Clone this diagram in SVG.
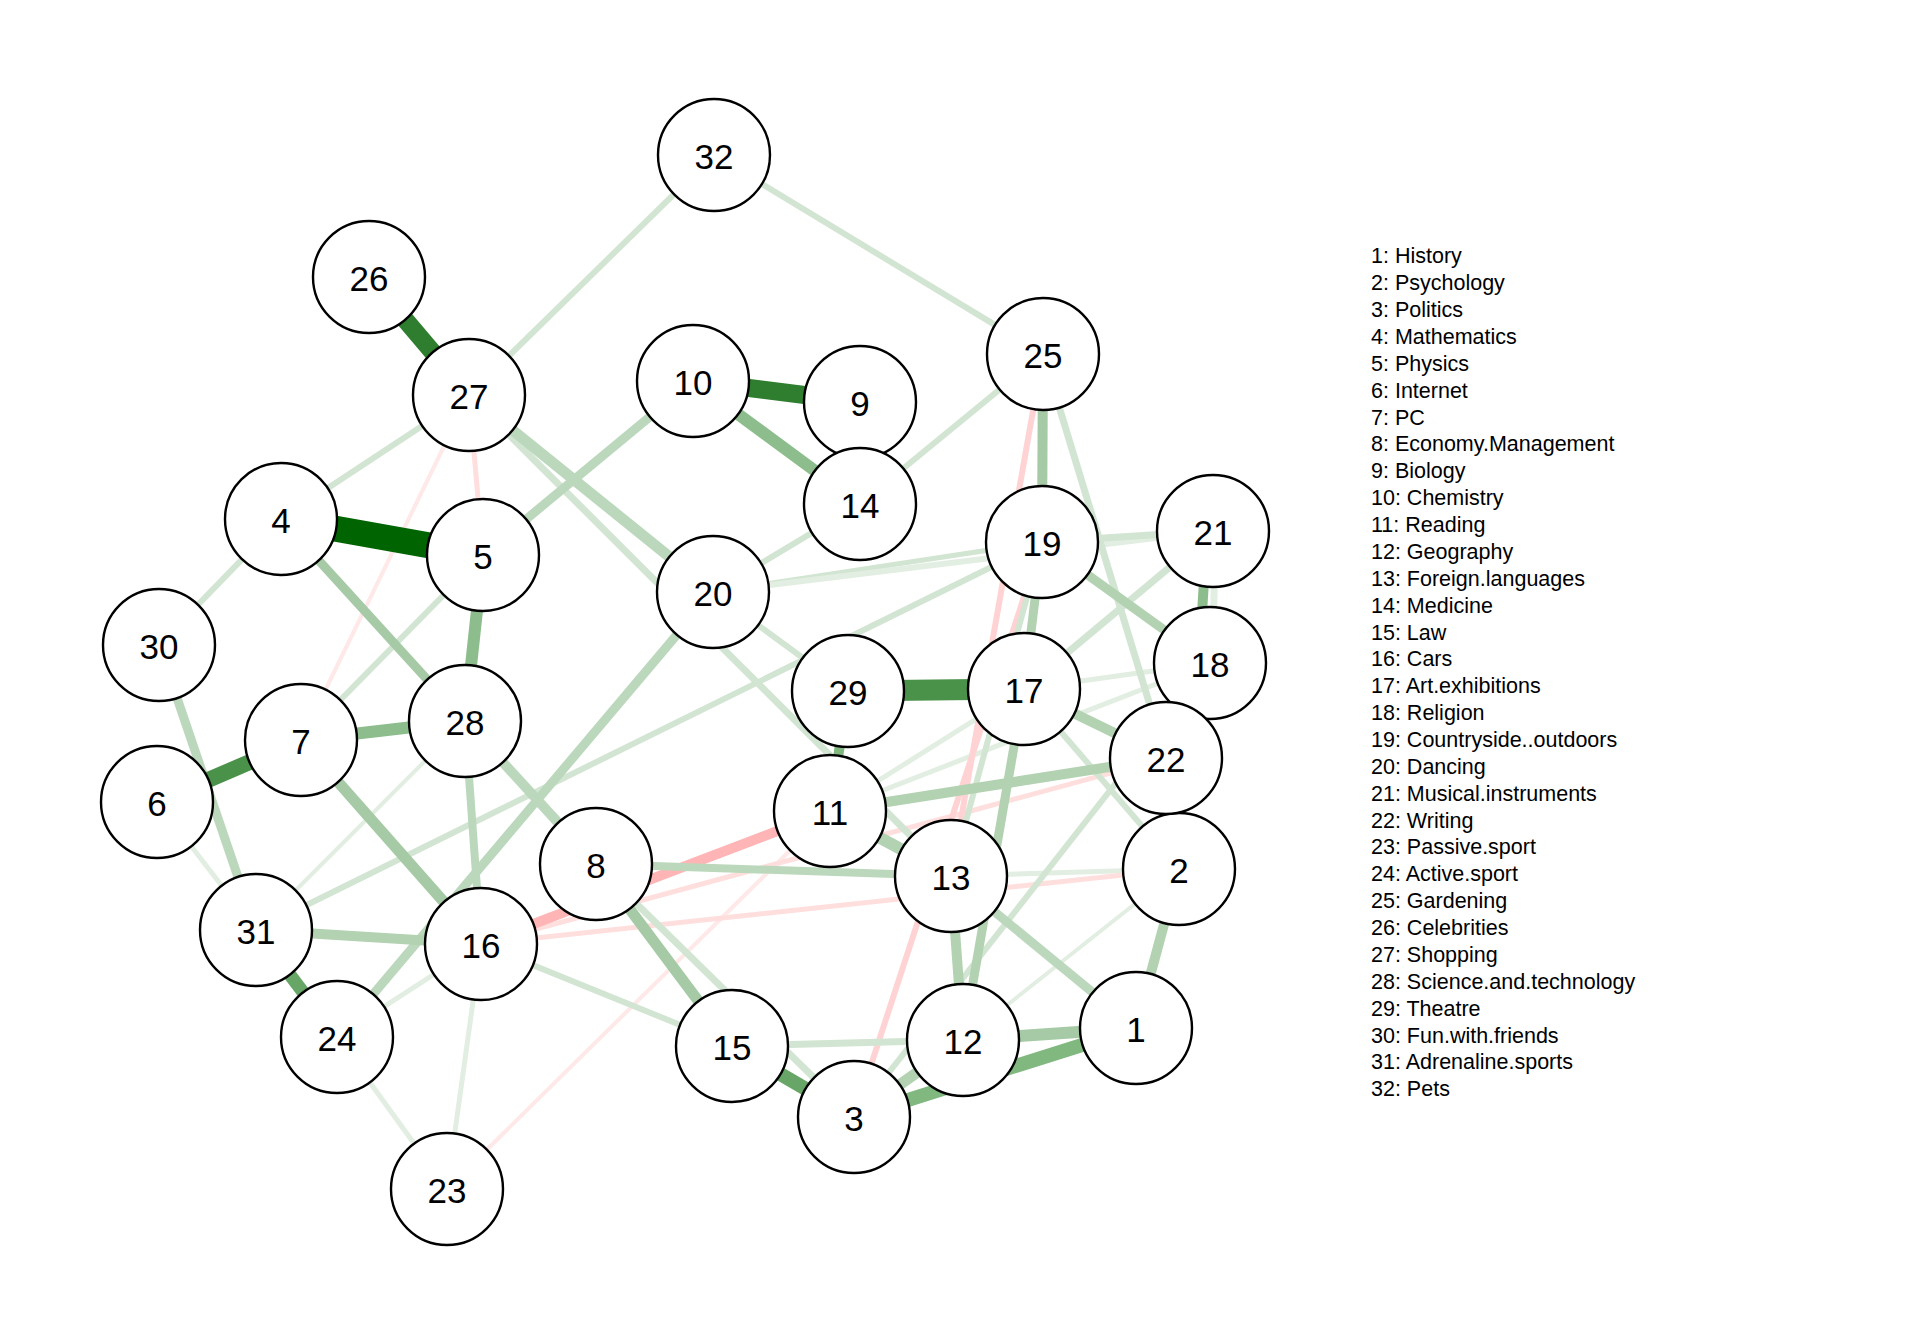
<svg xmlns="http://www.w3.org/2000/svg" width="1920" height="1344" viewBox="0 0 1920 1344">
<style>
.e{fill:none;stroke-linecap:butt}
.n circle{fill:#ffffff;stroke:#000000;stroke-width:2.4}
.n text{font-family:"Liberation Sans",Arial,sans-serif;font-size:35px;text-anchor:middle;fill:#000000}
.lg{font-family:"Liberation Sans",Arial,sans-serif;font-size:21.5px;fill:#000000}
.g0{stroke:#006400}
.g1{stroke:#2f7d2f}
.g2{stroke:#4a914a}
.g3{stroke:#67a667}
.g4{stroke:#80b880}
.g5{stroke:#8dbd8d}
.g6{stroke:#a5caa5}
.g7{stroke:#b2d2b2}
.g8{stroke:#bcd8bc}
.g9{stroke:#d2e5d2}
.g10{stroke:#e2eee2}
.r1{stroke:#ffb5b5}
.r2{stroke:#ffd3d3}
.r3{stroke:#ffdede}
.r4{stroke:#ffe8e8}
</style>
<rect width="1920" height="1344" fill="#ffffff"/>
<g id="connectors">
<line class="e g10" stroke-width="5" x1="830" y1="811" x2="1024" y2="689"/>
<line class="e g10" stroke-width="5" x1="830" y1="811" x2="1210" y2="663"/>
<line class="e g10" stroke-width="5" x1="1024" y1="689" x2="1210" y2="663"/>
<line class="e g10" stroke-width="5" x1="951" y1="876" x2="1179" y2="869"/>
<line class="e g10" stroke-width="4" x1="1179" y1="869" x2="963" y2="1040"/>
<line class="e g10" stroke-width="5" x1="157" y1="802" x2="256" y2="930"/>
<line class="e g10" stroke-width="4" x1="465" y1="721" x2="256" y2="930"/>
<line class="e g10" stroke-width="5" x1="337" y1="1037" x2="447" y2="1189"/>
<line class="e g10" stroke-width="5" x1="481" y1="944" x2="447" y2="1189"/>
<line class="e g10" stroke-width="5" x1="337" y1="1037" x2="481" y2="944"/>
<line class="e g10" stroke-width="7" x1="1215" y1="531" x2="1213" y2="663"/>
<line class="e r4" stroke-width="4" x1="469" y1="395" x2="301" y2="740"/>
<line class="e r4" stroke-width="4" x1="447" y1="1189" x2="830" y2="811"/>
<line class="e r3" stroke-width="5" x1="469" y1="395" x2="483" y2="555"/>
<line class="e r3" stroke-width="5" x1="481" y1="944" x2="1166" y2="758"/>
<line class="e r3" stroke-width="5" x1="481" y1="944" x2="1179" y2="869"/>
<line class="e r2" stroke-width="6" x1="1043" y1="354" x2="951" y2="876"/>
<line class="e r2" stroke-width="6" x1="1042" y1="542" x2="854" y2="1117"/>
<line class="e r1" stroke-width="10" x1="481" y1="944" x2="830" y2="811"/>
<line class="e g9" stroke-width="6" x1="469" y1="395" x2="714" y2="155"/>
<line class="e g9" stroke-width="6" x1="714" y1="155" x2="1043" y2="354"/>
<line class="e g9" stroke-width="6" x1="469" y1="395" x2="281" y2="519"/>
<line class="e g9" stroke-width="7" x1="469" y1="395" x2="951" y2="876"/>
<line class="e g9" stroke-width="6" x1="281" y1="519" x2="159" y2="645"/>
<line class="e g9" stroke-width="6" x1="483" y1="555" x2="301" y2="740"/>
<line class="e g9" stroke-width="6" x1="860" y1="504" x2="1043" y2="354"/>
<line class="e g9" stroke-width="6" x1="860" y1="504" x2="713" y2="592"/>
<line class="e g9" stroke-width="6" x1="713" y1="592" x2="848" y2="691"/>
<line class="e g9" stroke-width="5" x1="713" y1="592" x2="1042" y2="542"/>
<line class="e g10" stroke-width="6" x1="713" y1="592" x2="1213" y2="531"/>
<line class="e g9" stroke-width="7" x1="1042" y1="542" x2="1213" y2="531"/>
<line class="e g9" stroke-width="6" x1="256" y1="930" x2="1042" y2="542"/>
<line class="e g9" stroke-width="7" x1="1043" y1="354" x2="1166" y2="758"/>
<line class="e g9" stroke-width="7" x1="1213" y1="531" x2="1024" y2="689"/>
<line class="e g9" stroke-width="6" x1="1024" y1="689" x2="1179" y2="869"/>
<line class="e g9" stroke-width="6" x1="951" y1="876" x2="1042" y2="542"/>
<line class="e g9" stroke-width="6" x1="1210" y1="663" x2="854" y2="1117"/>
<line class="e g9" stroke-width="6" x1="481" y1="944" x2="732" y2="1046"/>
<line class="e g9" stroke-width="7" x1="732" y1="1046" x2="963" y2="1040"/>
<line class="e g9" stroke-width="7" x1="596" y1="864" x2="854" y2="1117"/>
<line class="e g8" stroke-width="11" x1="469" y1="395" x2="713" y2="592"/>
<line class="e g8" stroke-width="9" x1="693" y1="381" x2="483" y2="555"/>
<line class="e g8" stroke-width="9" x1="337" y1="1037" x2="713" y2="592"/>
<line class="e g8" stroke-width="10" x1="465" y1="721" x2="596" y2="864"/>
<line class="e g8" stroke-width="8" x1="465" y1="721" x2="481" y2="944"/>
<line class="e g8" stroke-width="9" x1="159" y1="645" x2="256" y2="930"/>
<line class="e g8" stroke-width="9" x1="951" y1="876" x2="1136" y2="1028"/>
<line class="e g8" stroke-width="8" x1="596" y1="864" x2="951" y2="876"/>
<line class="e g7" stroke-width="10" x1="256" y1="930" x2="481" y2="944"/>
<line class="e g7" stroke-width="10" x1="830" y1="811" x2="1166" y2="758"/>
<line class="e g7" stroke-width="10" x1="1024" y1="689" x2="1166" y2="758"/>
<line class="e g7" stroke-width="9" x1="1042" y1="542" x2="1024" y2="689"/>
<line class="e g7" stroke-width="9" x1="1042" y1="542" x2="1210" y2="663"/>
<line class="e g7" stroke-width="9" x1="1024" y1="689" x2="963" y2="1040"/>
<line class="e g7" stroke-width="10" x1="951" y1="876" x2="963" y2="1040"/>
<line class="e g7" stroke-width="10" x1="1179" y1="869" x2="1136" y2="1028"/>
<line class="e g7" stroke-width="11" x1="854" y1="1117" x2="963" y2="1040"/>
<line class="e g7" stroke-width="12" x1="830" y1="811" x2="951" y2="876"/>
<line class="e g6" stroke-width="9" x1="281" y1="519" x2="465" y2="721"/>
<line class="e g6" stroke-width="11" x1="301" y1="740" x2="481" y2="944"/>
<line class="e g6" stroke-width="10" x1="1043" y1="354" x2="1042" y2="542"/>
<line class="e g6" stroke-width="11" x1="596" y1="864" x2="732" y2="1046"/>
<line class="e g6" stroke-width="12" x1="963" y1="1040" x2="1136" y2="1028"/>
<line class="e g5" stroke-width="10" x1="1207" y1="531" x2="1199" y2="663"/>
<line class="e g4" stroke-width="10" x1="848" y1="691" x2="830" y2="811"/>
<line class="e g5" stroke-width="12" x1="693" y1="381" x2="860" y2="504"/>
<line class="e g5" stroke-width="12" x1="483" y1="555" x2="465" y2="721"/>
<line class="e g5" stroke-width="12" x1="301" y1="740" x2="465" y2="721"/>
<line class="e g4" stroke-width="14" x1="854" y1="1117" x2="1136" y2="1028"/>
<line class="e g3" stroke-width="13" x1="256" y1="930" x2="337" y2="1037"/>
<line class="e g3" stroke-width="14" x1="732" y1="1046" x2="854" y2="1117"/>
<line class="e g2" stroke-width="16" x1="157" y1="802" x2="301" y2="740"/>
<line class="e g2" stroke-width="21" x1="848" y1="691" x2="1024" y2="689"/>
<line class="e g1" stroke-width="18" x1="369" y1="277" x2="469" y2="395"/>
<line class="e g1" stroke-width="18" x1="693" y1="381" x2="860" y2="402"/>
<line class="e g0" stroke-width="26" x1="281" y1="519" x2="483" y2="555"/>
</g>
<g id="node-1" class="n"><circle cx="1136" cy="1028" r="56"/><text x="1136" y="1041.5">1</text></g>
<g id="node-2" class="n"><circle cx="1179" cy="869" r="56"/><text x="1179" y="882.5">2</text></g>
<g id="node-3" class="n"><circle cx="854" cy="1117" r="56"/><text x="854" y="1130.5">3</text></g>
<g id="node-4" class="n"><circle cx="281" cy="519" r="56"/><text x="281" y="532.5">4</text></g>
<g id="node-5" class="n"><circle cx="483" cy="555" r="56"/><text x="483" y="568.5">5</text></g>
<g id="node-6" class="n"><circle cx="157" cy="802" r="56"/><text x="157" y="815.5">6</text></g>
<g id="node-7" class="n"><circle cx="301" cy="740" r="56"/><text x="301" y="753.5">7</text></g>
<g id="node-8" class="n"><circle cx="596" cy="864" r="56"/><text x="596" y="877.5">8</text></g>
<g id="node-9" class="n"><circle cx="860" cy="402" r="56"/><text x="860" y="415.5">9</text></g>
<g id="node-10" class="n"><circle cx="693" cy="381" r="56"/><text x="693" y="394.5">10</text></g>
<g id="node-11" class="n"><circle cx="830" cy="811" r="56"/><text x="830" y="824.5">11</text></g>
<g id="node-12" class="n"><circle cx="963" cy="1040" r="56"/><text x="963" y="1053.5">12</text></g>
<g id="node-13" class="n"><circle cx="951" cy="876" r="56"/><text x="951" y="889.5">13</text></g>
<g id="node-14" class="n"><circle cx="860" cy="504" r="56"/><text x="860" y="517.5">14</text></g>
<g id="node-15" class="n"><circle cx="732" cy="1046" r="56"/><text x="732" y="1059.5">15</text></g>
<g id="node-16" class="n"><circle cx="481" cy="944" r="56"/><text x="481" y="957.5">16</text></g>
<g id="node-17" class="n"><circle cx="1024" cy="689" r="56"/><text x="1024" y="702.5">17</text></g>
<g id="node-18" class="n"><circle cx="1210" cy="663" r="56"/><text x="1210" y="676.5">18</text></g>
<g id="node-19" class="n"><circle cx="1042" cy="542" r="56"/><text x="1042" y="555.5">19</text></g>
<g id="node-20" class="n"><circle cx="713" cy="592" r="56"/><text x="713" y="605.5">20</text></g>
<g id="node-21" class="n"><circle cx="1213" cy="531" r="56"/><text x="1213" y="544.5">21</text></g>
<g id="node-22" class="n"><circle cx="1166" cy="758" r="56"/><text x="1166" y="771.5">22</text></g>
<g id="node-23" class="n"><circle cx="447" cy="1189" r="56"/><text x="447" y="1202.5">23</text></g>
<g id="node-24" class="n"><circle cx="337" cy="1037" r="56"/><text x="337" y="1050.5">24</text></g>
<g id="node-25" class="n"><circle cx="1043" cy="354" r="56"/><text x="1043" y="367.5">25</text></g>
<g id="node-26" class="n"><circle cx="369" cy="277" r="56"/><text x="369" y="290.5">26</text></g>
<g id="node-27" class="n"><circle cx="469" cy="395" r="56"/><text x="469" y="408.5">27</text></g>
<g id="node-28" class="n"><circle cx="465" cy="721" r="56"/><text x="465" y="734.5">28</text></g>
<g id="node-29" class="n"><circle cx="848" cy="691" r="56"/><text x="848" y="704.5">29</text></g>
<g id="node-30" class="n"><circle cx="159" cy="645" r="56"/><text x="159" y="658.5">30</text></g>
<g id="node-31" class="n"><circle cx="256" cy="930" r="56"/><text x="256" y="943.5">31</text></g>
<g id="node-32" class="n"><circle cx="714" cy="155" r="56"/><text x="714" y="168.5">32</text></g>
<g id="legend" class="lg">
<text x="1371" y="263.3">1: History</text>
<text x="1371" y="290.2">2: Psychology</text>
<text x="1371" y="317.0">3: Politics</text>
<text x="1371" y="343.9">4: Mathematics</text>
<text x="1371" y="370.8">5: Physics</text>
<text x="1371" y="397.7">6: Internet</text>
<text x="1371" y="424.5">7: PC</text>
<text x="1371" y="451.4">8: Economy.Management</text>
<text x="1371" y="478.3">9: Biology</text>
<text x="1371" y="505.1">10: Chemistry</text>
<text x="1371" y="532.0">11: Reading</text>
<text x="1371" y="558.9">12: Geography</text>
<text x="1371" y="585.7">13: Foreign.languages</text>
<text x="1371" y="612.6">14: Medicine</text>
<text x="1371" y="639.5">15: Law</text>
<text x="1371" y="666.4">16: Cars</text>
<text x="1371" y="693.2">17: Art.exhibitions</text>
<text x="1371" y="720.1">18: Religion</text>
<text x="1371" y="747.0">19: Countryside..outdoors</text>
<text x="1371" y="773.8">20: Dancing</text>
<text x="1371" y="800.7">21: Musical.instruments</text>
<text x="1371" y="827.6">22: Writing</text>
<text x="1371" y="854.4">23: Passive.sport</text>
<text x="1371" y="881.3">24: Active.sport</text>
<text x="1371" y="908.2">25: Gardening</text>
<text x="1371" y="935.1">26: Celebrities</text>
<text x="1371" y="961.9">27: Shopping</text>
<text x="1371" y="988.8">28: Science.and.technology</text>
<text x="1371" y="1015.7">29: Theatre</text>
<text x="1371" y="1042.5">30: Fun.with.friends</text>
<text x="1371" y="1069.4">31: Adrenaline.sports</text>
<text x="1371" y="1096.3">32: Pets</text>
</g>
</svg>
